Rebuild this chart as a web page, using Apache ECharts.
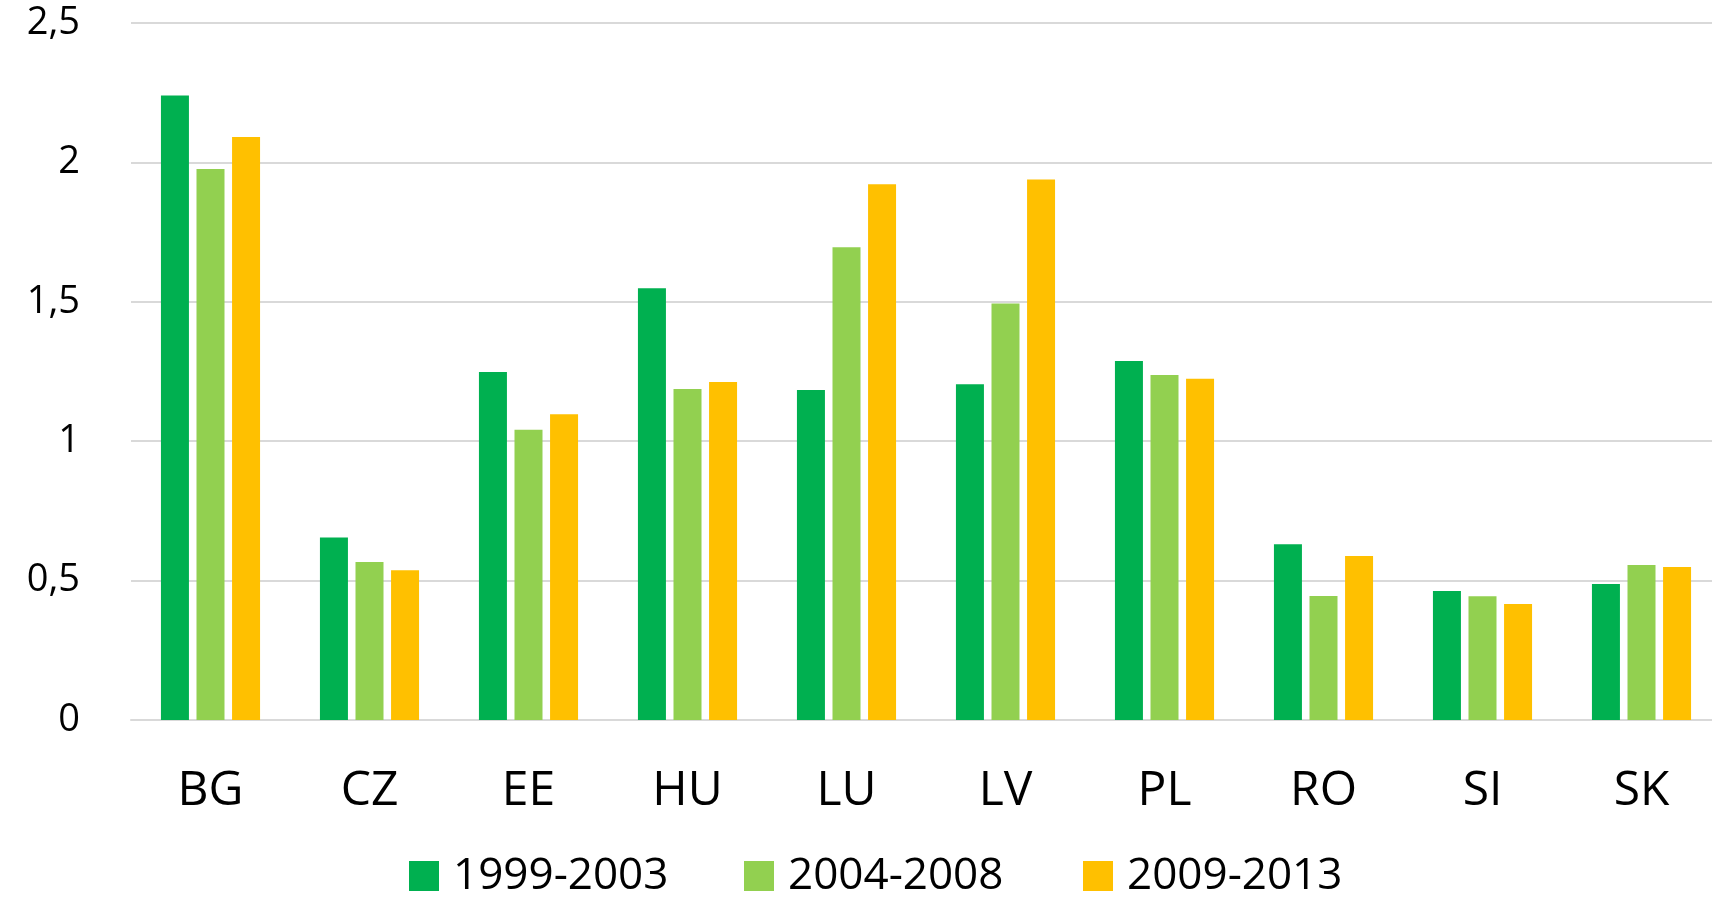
<!DOCTYPE html>
<html>
<head>
<meta charset="utf-8">
<script src="https://cdn.jsdelivr.net/npm/echarts@6/dist/echarts.min.js"></script>
<style>
  html, body { margin: 0; padding: 0; background: #ffffff; }
  #chart { width: 1712px; height: 903px; }
</style>
</head>
<body>
<div id="chart"></div>
<script>
const categories = ['BG', 'CZ', 'EE', 'HU', 'LU', 'LV', 'PL', 'RO', 'SI', 'SK'];
const seriesNames = ['1999-2003', '2004-2008', '2009-2013'];
const values1999_2003 = [2.24, 0.655, 1.248, 1.549, 1.184, 1.204, 1.288, 0.630, 0.463, 0.488];
const values2004_2008 = [1.976, 0.567, 1.041, 1.187, 1.696, 1.494, 1.237, 0.445, 0.444, 0.556];
const values2009_2013 = [2.091, 0.537, 1.097, 1.212, 1.922, 1.939, 1.224, 0.588, 0.416, 0.549];
const yTicks = [0, 0.5, 1, 1.5, 2, 2.5];

const colors = ['#00B050', '#92D050', '#FFC000'];
const font = '"Open Sans", "Noto Sans", sans-serif';
const legendLefts = [409, 744, 1083];

const chart = echarts.init(document.getElementById('chart'), null, { renderer: 'canvas' });

const seriesData = [values1999_2003, values2004_2008, values2009_2013];

chart.setOption({
  animation: false,
  backgroundColor: '#ffffff',
  color: colors,
  grid: {
    left: 131, right: -9, top: 23, bottom: 183,
    containLabel: false, outerBoundsMode: 'none'
  },
  legend: seriesNames.map((name, i) => ({
    data: [name],
    left: legendLefts[i],
    top: 854,
    padding: 0,
    itemWidth: 30,
    itemHeight: 30,
    icon: 'rect',
    textStyle: {
      fontFamily: font, fontSize: 44, color: '#000000',
      padding: [0, 0, 0, 9]
    }
  })),
  xAxis: {
    type: 'category',
    data: categories,
    axisLine: { show: true, lineStyle: { color: '#D9D9D9', width: 2 } },
    axisTick: { show: false },
    axisLabel: {
      fontFamily: font, fontSize: 48, color: '#000000',
      margin: 71, verticalAlign: 'middle'
    }
  },
  yAxis: {
    type: 'value',
    min: yTicks[0],
    max: yTicks[yTicks.length - 1],
    interval: 0.5,
    axisLine: { show: false },
    axisTick: { show: false },
    splitLine: { lineStyle: { color: '#D9D9D9', width: 2 } },
    axisLabel: {
      fontFamily: font, fontSize: 38, color: '#000000', margin: 51,
      formatter: v => String(v).replace('.', ',')
    }
  },
  series: seriesNames.map((name, i) => ({
    name: name,
    type: 'bar',
    data: seriesData[i],
    barWidth: 28,
    barGap: '27%',
    itemStyle: { color: colors[i] }
  }))
});
</script>
</body>
</html>
